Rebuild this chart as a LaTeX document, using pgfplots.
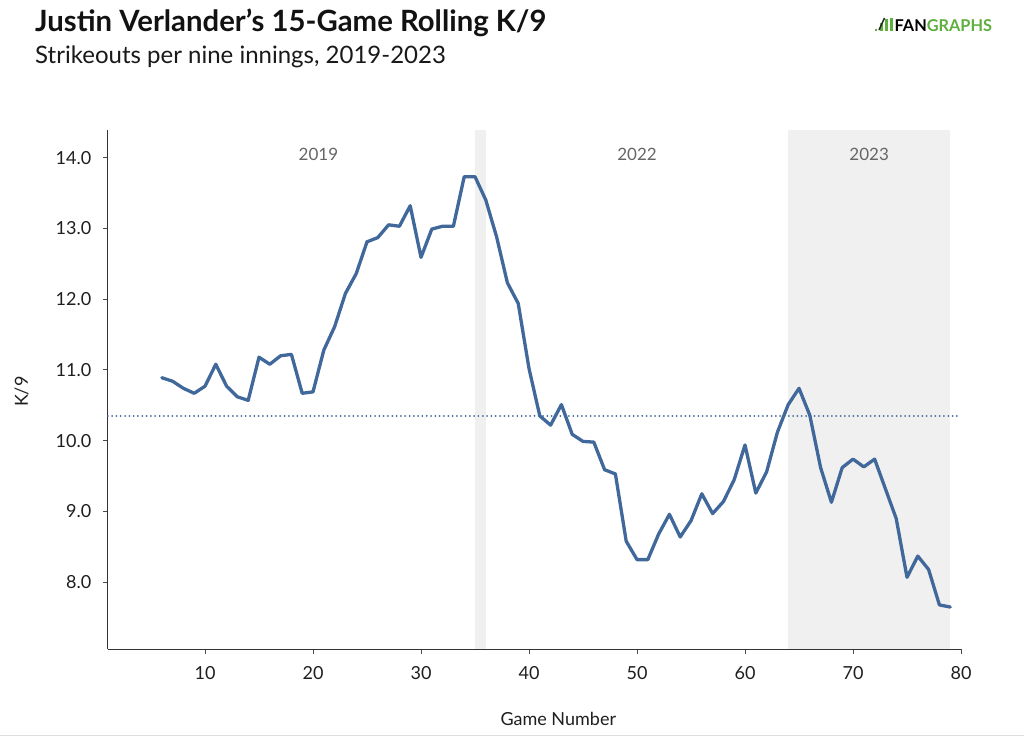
\documentclass[border=0pt]{standalone}
\usepackage{fontspec}
\setmainfont{Lato}
\usepackage{pgfplots}
\pgfplotsset{compat=1.18}
\usepackage{pgfplotstable}
\definecolor{kline}{HTML}{41689B}
\definecolor{shade}{HTML}{F0F0F0}
\definecolor{yeartxt}{HTML}{666666}
\definecolor{fgreen}{HTML}{5DAF3E}
\pgfplotstableread{
g k
6 10.89
7 10.84
8 10.74
9 10.67
10 10.77
11 11.08
12 10.77
13 10.62
14 10.57
15 11.18
16 11.08
17 11.20
18 11.22
19 10.67
20 10.69
21 11.28
22 11.61
23 12.08
24 12.36
25 12.81
26 12.87
27 13.05
28 13.03
29 13.32
30 12.59
31 12.99
32 13.03
33 13.03
34 13.73
35 13.73
36 13.40
37 12.88
38 12.23
39 11.94
40 11.02
41 10.35
42 10.22
43 10.51
44 10.09
45 9.99
46 9.98
47 9.59
48 9.53
49 8.58
50 8.32
51 8.32
52 8.68
53 8.96
54 8.64
55 8.87
56 9.25
57 8.97
58 9.14
59 9.45
60 9.94
61 9.26
62 9.56
63 10.12
64 10.51
65 10.74
66 10.36
67 9.62
68 9.13
69 9.62
70 9.74
71 9.63
72 9.74
73 9.32
74 8.90
75 8.07
76 8.37
77 8.18
78 7.68
79 7.65
}\kdata
\begin{document}
\begin{tikzpicture}[x=1bp,y=1bp]
\useasboundingbox (0,0) rectangle (1024,739);
\fill[white] (0,0) rectangle (1024,739);
% title and subtitle
\node[anchor=base west, inner sep=0pt, font=\fontsize{29.3bp}{31bp}\selectfont\bfseries, text=black!93] at (35,707.3) {Justin Verlander's 15-Game Rolling K/9};
\node[anchor=base west, inner sep=0pt, font=\fontsize{24bp}{26bp}\selectfont, text=black!90] at (35,675.7) {Strikeouts per nine innings, 2019-2023};
% logo
\fill[fgreen] (875,708) rectangle (877.2,710.2);
\fill[fgreen] (880,708) rectangle (882.6,716);
\fill[fgreen] (885,708) rectangle (887.6,720);
\fill[fgreen] (890,708) rectangle (892.6,721);
\draw[black!85, line width=1.5bp] (879,709) -- (884.5,721);
\node[anchor=base west, inner sep=0pt, font=\fontsize{16.3bp}{18bp}\selectfont\bfseries] at (894.5,707.3) {FAN\textcolor{fgreen}{GRAPHS}};
% bottom rule
\draw[black!13, line width=1.5bp] (0,3.3) -- (1024,3.3);
\begin{axis}[
  at={(107.8bp,89.7bp)}, anchor=south west,
  scale only axis, width=853.2bp, height=519.3bp,
  xmin=1, xmax=80, ymin=7.053, ymax=14.39,
  axis x line*=bottom, axis y line*=left,
  axis line style={-, draw=black!80, line width=1.2bp},
  xtick={10,20,...,80}, ytick={8,...,14},
  tick align=outside, major tick length=5bp,
  tick style={draw=black!70, line width=1bp},
  /pgf/number format/assume math mode=true,
  yticklabel style={/pgf/number format/fixed, /pgf/number format/fixed zerofill, /pgf/number format/precision=1, xshift=-8bp},
  tick label style={font=\fontsize{18bp}{20bp}\selectfont, text=black!88},
  xticklabel style={yshift=-8.5bp},
  xlabel={Game Number}, ylabel={K/9},
  label style={font=\fontsize{18bp}{20bp}\selectfont, text=black!88},
  x label style={at={(axis description cs:0.528,0)}, anchor=center, yshift=-69.5bp},
  y label style={at={(axis description cs:-0.1009,0.496)}, anchor=center},
  clip=false,
]
\addplot[draw=none, fill=shade] coordinates {(35,7.053) (36,7.053) (36,14.39) (35,14.39)} -- cycle;
\addplot[draw=none, fill=shade] coordinates {(64,7.053) (79,7.053) (79,14.39) (64,14.39)} -- cycle;
\addplot[kline, line width=2bp, line cap=round, dash pattern=on 0.01bp off 4.3bp] coordinates {(1,10.35) (80,10.35)};
\addplot[kline, line width=3.3bp, line join=round, line cap=round] table[x=g, y=k] {\kdata};
\node[font=\fontsize{17bp}{19bp}\selectfont, text=yeartxt] at (axis cs:20.5,14.047) {2019};
\node[font=\fontsize{17bp}{19bp}\selectfont, text=yeartxt] at (axis cs:50,14.047) {2022};
\node[font=\fontsize{17bp}{19bp}\selectfont, text=yeartxt] at (axis cs:71.5,14.047) {2023};
\end{axis}
\end{tikzpicture}
\end{document}
